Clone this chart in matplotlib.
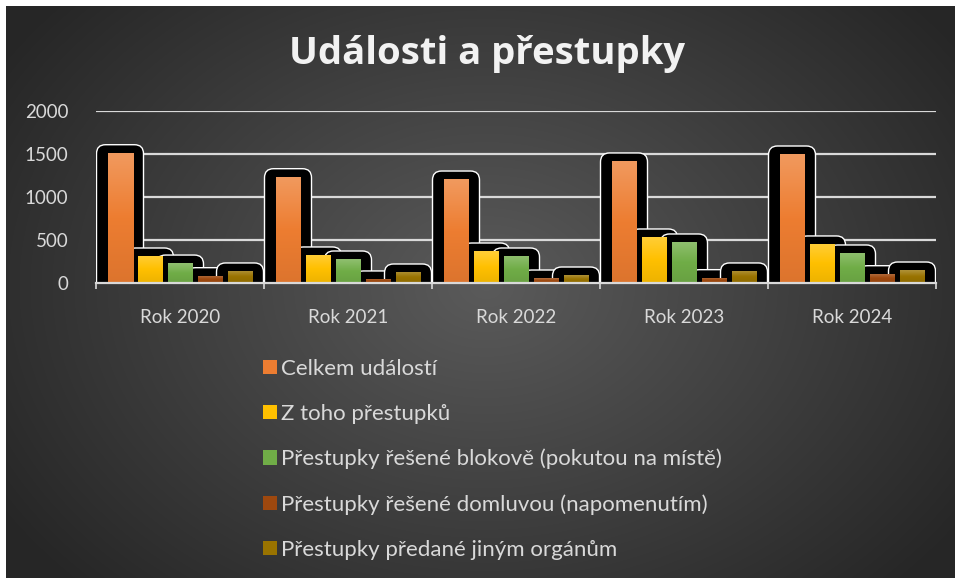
import numpy as np
import matplotlib
matplotlib.use('Agg')
from matplotlib import pyplot as plt
from matplotlib.patches import FancyBboxPatch
from matplotlib.colors import LinearSegmentedColormap, to_rgb
from matplotlib.transforms import IdentityTransform

plt.rcParams['font.family'] = ['Lato', 'DejaVu Sans']

years = ['Rok 2020', 'Rok 2021', 'Rok 2022', 'Rok 2023', 'Rok 2024']
celkem = [1515, 1236, 1209, 1419, 1500]
z_toho = [314, 326, 372, 535, 454]
blokove = [232, 279, 314, 477, 349]
domluvou = [85, 47, 58, 62, 108]
predane = [140, 128, 93, 140, 151]

labels = ['Celkem událostí', 'Z toho přestupků',
          'Přestupky řešené blokově (pokutou na místě)',
          'Přestupky řešené domluvou (napomenutím)',
          'Přestupky předané jiným orgánům']
colors = ['#ED7D31', '#FFC000', '#70AD47', '#9E480E', '#997300']
series = [celkem, z_toho, blokove, domluvou, predane]

W, H = 955, 578
fig = plt.figure(figsize=(W / 100, H / 100), dpi=100, facecolor='white')

# dark radial background
bg = fig.add_axes([6 / W, 0, (W - 6) / W, (H - 6) / H])
yy, xx = np.mgrid[0:572, 0:949]
r = np.sqrt(((xx - 480) / 560.0) ** 2 + ((yy - 280) / 420.0) ** 2)
g = np.clip(0.355 - 0.2 * r, 0.15, 1)
bg.imshow(np.dstack([g, g, g]), aspect='auto', interpolation='bilinear')
bg.set_axis_off()

ax = fig.add_axes([96 / W, (H - 283) / H, 840 / W, 172 / H])
ax.set_facecolor('none')
ax.set_xlim(-0.5, 4.5)
ax.set_ylim(0, 2000)

x = np.arange(len(years))
step = 30 / 168
width = 25 / 168
bars = []
for j, vals in enumerate(series):
    b = ax.bar(x + (j - 2) * step, vals, width, color=colors[j], zorder=3,
               label=labels[j], linewidth=0)
    bars.append(b)

# black rounded shapes behind each bar
for j, b in enumerate(bars):
    for rect in b:
        bb = rect.get_window_extent()
        sh = FancyBboxPatch((bb.x0 - 8, bb.y0 - 10), bb.width + 16, bb.height + 15,
                            boxstyle='round,pad=3,rounding_size=9',
                            facecolor='black', edgecolor='white', linewidth=1.0,
                            transform=IdentityTransform(), zorder=2)
        sh.set_clip_box(ax.bbox)
        ax.add_patch(sh)

# gradient fill on bars
for j, b in enumerate(bars):
    base = np.array(to_rgb(colors[j]))
    top = base + (1 - base) * 0.22
    bot = base * 0.93
    cmap = LinearSegmentedColormap.from_list('g%d' % j, [bot, base, top])
    for rect in b:
        x0, y0 = rect.get_x(), rect.get_y()
        im = ax.imshow(np.linspace(0, 1, 64).reshape(-1, 1), cmap=cmap,
                       extent=[x0, x0 + rect.get_width(), y0, y0 + rect.get_height()],
                       origin='lower', aspect='auto', zorder=3.5)
        im.set_clip_path(rect)

ax.set_xlim(-0.5, 4.5)
ax.set_ylim(0, 2000)

ax.set_axisbelow(True)
ax.yaxis.grid(True, color='#d9d9d9', linewidth=1.6, zorder=1)
ax.set_yticks([0, 500, 1000, 1500, 2000])
ax.tick_params(axis='y', length=0, pad=20, labelsize=13.5, labelcolor='#d9d9d9')
ax.set_xticks(x)
ax.set_xticklabels(years)
ax.set_xticks(np.arange(-0.5, 5, 1), minor=True)
ax.tick_params(axis='x', which='major', length=0, pad=19, labelsize=13.5,
               labelcolor='#d9d9d9')
ax.tick_params(axis='x', which='minor', length=4, width=1.2, color='#d9d9d9')
for s in ['left', 'right', 'top']:
    ax.spines[s].set_visible(False)
ax.spines['bottom'].set_color('#d9d9d9')
ax.spines['bottom'].set_linewidth(1.6)
ax.spines['bottom'].set_zorder(4)

fig.text(487 / W, 1 - 54 / H, 'Události a přestupky', ha='center', va='center',
         fontsize=27.5, fontweight='bold', color='#f2f2f2',
         family=['Open Sans', 'DejaVu Sans'])

leg = fig.legend(handles=[b[0] for b in bars], labels=labels,
                 loc='upper left', bbox_to_anchor=(243 / W, 1 - 339 / H),
                 frameon=False, fontsize=16, labelcolor='#d9d9d9',
                 handlelength=0.62, handleheight=0.62, handletextpad=0.2,
                 labelspacing=1.12)

fig.savefig('out.png', dpi=100, facecolor='white')
